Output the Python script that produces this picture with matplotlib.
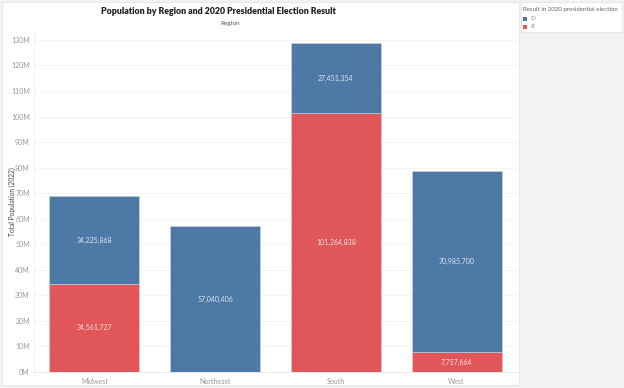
import matplotlib
matplotlib.use("Agg")
import matplotlib.pyplot as plt
from matplotlib.patches import Rectangle
import numpy as np

regions = ["Midwest", "Northeast", "South", "West"]
r_values = [34561727, 0, 101264838, 7757664]
d_values = [34225868, 57040406, 27451354, 70985700]
yticks = list(range(0, 140_000_000, 10_000_000))
ytick_labels = [f"{v // 1_000_000}M" for v in yticks]

BLUE = "#4e79a7"
RED = "#e15759"
plt.rcParams['font.family'] = ['Lato', 'DejaVu Sans']

W, H = 624, 388
fig = plt.figure(figsize=(W / 100, H / 100), dpi=100, facecolor="#f2f2f2")
# white chart panel
fig.patches.append(Rectangle((2 / W, (H - 385) / H), 517 / W, 383 / H,
                             transform=fig.transFigure, facecolor="white",
                             edgecolor="#e4e4e4", linewidth=0.6, zorder=-5))
# legend panel
fig.patches.append(Rectangle((521 / W, (H - 32) / H), 101 / W, 30 / H,
                             transform=fig.transFigure, facecolor="white",
                             edgecolor="#e4e4e4", linewidth=0.6, zorder=-5))

ax = fig.add_axes([34 / W, (H - 372) / H, 483 / W, (372 - 33) / H])
ax.set_zorder(5)
ax.set_facecolor("white")
x = np.arange(len(regions))
bw = 0.745
ax.bar(x, r_values, width=bw, color=RED, edgecolor="#f3c9ca", linewidth=0.4, zorder=2)
ax.bar(x, d_values, width=bw, bottom=r_values, color=BLUE, edgecolor="#c9d6e6",
       linewidth=0.4, zorder=2)

for i in range(len(regions)):
    if r_values[i] > 0:
        ax.text(x[i], r_values[i] / 2, f"{r_values[i]:,}", ha="center", va="center",
                color="#f6dede", fontsize=5, zorder=3)
    ax.text(x[i], r_values[i] + d_values[i] / 2, f"{d_values[i]:,}", ha="center",
            va="center", color="#dbe4ef", fontsize=5, zorder=3)

ax.set_xlim(-0.5, len(regions) - 0.5)
ax.set_ylim(0, 132.7e6)
ax.set_yticks(yticks)
ax.set_yticklabels(ytick_labels)
ax.set_xticks(x)
ax.set_xticklabels(regions)
ax.tick_params(axis="both", length=0, labelsize=5, colors="#999999", pad=3)
ax.tick_params(axis="x", pad=4)
ax.yaxis.grid(True, color="#f2f2f2", linewidth=0.6, zorder=0)
ax.set_axisbelow(True)
for s in ["top", "right"]:
    ax.spines[s].set_visible(False)
ax.spines["left"].set_color("#f0f0f0")
ax.spines["bottom"].set_color("#e8e8e8")
ax.spines["left"].set_linewidth(0.6)
ax.spines["bottom"].set_linewidth(0.6)

fig.text(12 / W, 1 - 202 / H, "Total Population (2022)", rotation=90, ha="center",
         va="center", fontsize=4.8, color="#444444")

fig.text(218 / W, 1 - 12 / H, "Population by Region and 2020 Presidential Election Result",
         ha="center", va="center", fontsize=6.3, fontweight="heavy", color="#222222")
fig.text(230 / W, 1 - 24 / H, "Region", ha="center", va="center", fontsize=4.6,
         color="#555555")

# legend
fig.text(523 / W, 1 - 9 / H, "Result in 2020 presidential election", ha="left",
         va="center", fontsize=4.4, color="#666666")
for j, (lab, col) in enumerate([("D", BLUE), ("R", RED)]):
    yy = 19 + j * 7.5
    fig.patches.append(Rectangle((523 / W, 1 - (yy + 2) / H), 4 / W, 4 / H,
                                 transform=fig.transFigure, facecolor=col,
                                 edgecolor="none", zorder=1))
    fig.text(530 / W, 1 - yy / H, lab, ha="left", va="center", fontsize=4.5,
             color="#888888")

fig.savefig("out.png", dpi=100, facecolor=fig.get_facecolor())
